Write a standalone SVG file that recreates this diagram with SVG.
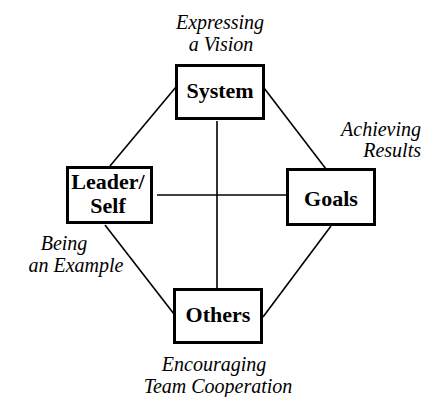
<svg xmlns="http://www.w3.org/2000/svg" width="426" height="397" viewBox="0 0 426 397">
<style>
.box{fill:#fff;stroke:#000;stroke-width:3}
.lbl{font-weight:bold;font-size:22px;text-anchor:middle;fill:#000}
.cap{font-style:italic;font-size:20px;fill:#000}
.conn line{stroke:#000;stroke-width:1.6}
</style>
<rect width="426" height="397" fill="#fff"/>
<g id="connectors" class="conn">
<line x1="217" y1="121" x2="217" y2="289"/>
<line x1="157" y1="195" x2="287" y2="195"/>
<line x1="110" y1="166" x2="176" y2="87"/>
<line x1="264" y1="88" x2="326" y2="169"/>
<line x1="105" y1="225" x2="174" y2="314"/>
<line x1="331" y1="226" x2="263" y2="317"/>
</g>
<g font-family="Liberation Serif, serif">
<g id="system">
<rect class="box" x="176.5" y="65.5" width="87" height="53"/>
<text class="lbl" x="220" y="98">System</text>
</g>
<g id="leader">
<rect class="box" x="67.5" y="167.5" width="84" height="55"/>
<text class="lbl" x="108" y="189">Leader/</text>
<text class="lbl" x="108" y="213">Self</text>
</g>
<g id="goals">
<rect class="box" x="287.5" y="169.5" width="87" height="55"/>
<text class="lbl" x="331" y="206">Goals</text>
</g>
<g id="others">
<rect class="box" x="174.5" y="289.5" width="87" height="53"/>
<text class="lbl" x="218" y="322">Others</text>
</g>
<g id="captions">
<text class="cap" x="220" y="29" text-anchor="middle">Expressing</text>
<text class="cap" x="221" y="51" text-anchor="middle">a Vision</text>
<text class="cap" x="421" y="136" text-anchor="end">Achieving</text>
<text class="cap" x="421" y="157" text-anchor="end">Results</text>
<text class="cap" x="64" y="250" text-anchor="middle">Being</text>
<text class="cap" x="76" y="272" text-anchor="middle">an Example</text>
<text class="cap" x="214" y="371" text-anchor="middle">Encouraging</text>
<text class="cap" x="218" y="393" text-anchor="middle">Team Cooperation</text>
</g>
</g>
</svg>
